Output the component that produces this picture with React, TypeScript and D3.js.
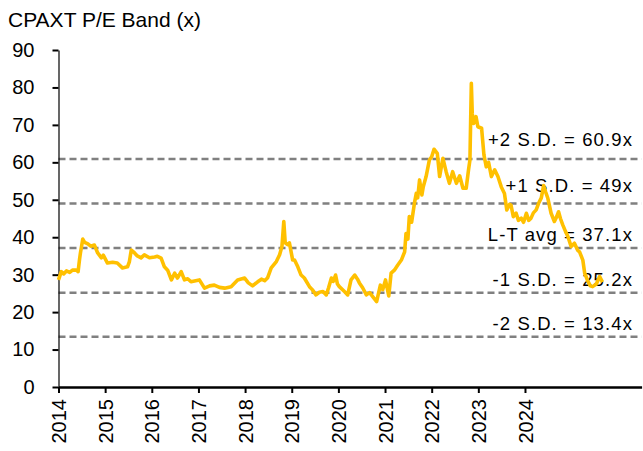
import React, { useEffect, useRef } from 'react'
import * as d3 from 'd3'

// decimal year of each reading, and the P/E (x) at that date
const years = [
  2014.00, 2014.06, 2014.11, 2014.17, 2014.24, 2014.30, 2014.38, 2014.42, 2014.45, 2014.47,
  2014.50, 2014.52, 2014.56, 2014.63, 2014.69, 2014.77, 2014.84, 2014.92, 2014.96, 2015.05,
  2015.16, 2015.26, 2015.37, 2015.48, 2015.52, 2015.56, 2015.63, 2015.69, 2015.77, 2015.84,
  2015.95, 2016.06, 2016.12, 2016.20, 2016.27, 2016.34, 2016.42, 2016.49, 2016.55, 2016.63,
  2016.70, 2016.77, 2016.84, 2016.94, 2017.02, 2017.13, 2017.24, 2017.34, 2017.45, 2017.56,
  2017.70, 2017.84, 2017.99, 2018.07, 2018.16, 2018.27, 2018.35, 2018.42, 2018.48, 2018.56,
  2018.67, 2018.74, 2018.79, 2018.83, 2018.86, 2018.91, 2018.95, 2019.02, 2019.06, 2019.13,
  2019.20, 2019.27, 2019.38, 2019.44, 2019.52, 2019.59, 2019.67, 2019.74, 2019.79, 2019.85,
  2019.89, 2019.94, 2019.98, 2020.02, 2020.13, 2020.20, 2020.27, 2020.35, 2020.41, 2020.45,
  2020.52, 2020.60, 2020.67, 2020.74, 2020.82, 2020.90, 2020.95, 2021.01, 2021.08, 2021.13,
  2021.20, 2021.27, 2021.35, 2021.42, 2021.45, 2021.49, 2021.52, 2021.57, 2021.63, 2021.67,
  2021.70, 2021.74, 2021.79, 2021.82, 2021.88, 2021.95, 2022.00, 2022.05, 2022.12, 2022.17,
  2022.24, 2022.31, 2022.38, 2022.45, 2022.53, 2022.60, 2022.67, 2022.74, 2022.79, 2022.82,
  2022.85, 2022.87, 2022.90, 2022.95, 2022.99, 2023.07, 2023.12, 2023.17, 2023.22, 2023.28,
  2023.35, 2023.42, 2023.49, 2023.56, 2023.61, 2023.67, 2023.70, 2023.75, 2023.81, 2023.86,
  2023.92, 2023.97, 2024.03, 2024.08, 2024.13, 2024.18, 2024.24, 2024.29, 2024.35, 2024.40,
  2024.44, 2024.49, 2024.56, 2024.63, 2024.68, 2024.72, 2024.76, 2024.81, 2024.87, 2024.92,
  2024.99, 2025.06, 2025.13, 2025.17, 2025.24, 2025.28, 2025.34, 2025.40, 2025.45, 2025.53,
  2025.60, 2025.66,
]

const pe = [
  28.6, 30.8, 30.2, 31.0, 30.6, 31.2, 31.2, 30.8, 34.0, 35.8,
  38.0, 39.5, 38.6, 38.2, 37.6, 37.9, 35.8, 34.5, 35.2, 33.1,
  33.3, 33.1, 31.8, 32.1, 33.5, 36.6, 35.8, 35.0, 34.5, 35.3,
  34.5, 34.7, 34.9, 34.4, 32.1, 31.2, 28.6, 30.4, 29.1, 30.8,
  28.6, 28.9, 28.1, 28.4, 28.6, 26.4, 27.0, 27.2, 26.6, 26.4,
  26.8, 28.6, 29.1, 27.8, 27.0, 28.1, 28.8, 28.4, 29.1, 31.8,
  33.5, 35.3, 37.5, 44.2, 38.5, 38.0, 38.5, 33.9, 33.9, 32.1,
  29.9, 29.1, 26.8, 26.0, 24.6, 25.3, 25.5, 24.6, 26.5, 29.1,
  28.2, 29.9, 27.5, 26.8, 25.5, 24.6, 28.6, 29.9, 28.8, 27.8,
  26.5, 24.6, 25.2, 24.1, 22.8, 27.2, 26.0, 28.6, 24.3, 30.4,
  31.2, 32.5, 33.9, 36.1, 41.0, 39.5, 45.5, 44.0, 49.1, 51.7,
  50.5, 55.3, 51.3, 53.5, 56.2, 60.6, 61.5, 63.5, 62.4, 56.2,
  61.1, 57.5, 54.4, 57.5, 54.4, 56.4, 53.1, 53.1, 58.0, 60.6,
  81.1, 73.0, 70.4, 72.2, 69.5, 69.1, 62.0, 58.8, 60.0, 56.2,
  58.0, 56.2, 53.5, 51.7, 47.3, 48.8, 48.6, 45.5, 46.4, 44.5,
  45.1, 44.0, 46.4, 44.5, 45.1, 46.5, 47.3, 49.0, 50.5, 53.8,
  52.2, 50.4, 46.4, 44.2, 45.5, 46.8, 45.0, 43.3, 41.5, 40.2,
  37.5, 38.4, 36.5, 36.1, 33.9, 30.4, 28.5, 27.0, 26.8, 27.5,
  29.5, 28.0,
]

const bandValues = [60.9, 49, 37.1, 25.2, 13.4]
const bandLabels = ['+2 S.D. = 60.9x', '+1 S.D. = 49x', 'L-T avg = 37.1x', '-1 S.D. = 25.2x', '-2 S.D. = 13.4x']
const yTicks = [0, 10, 20, 30, 40, 50, 60, 70, 80, 90]
const xTicks = [2014, 2015, 2016, 2017, 2018, 2019, 2020, 2021, 2022, 2023, 2024]

const W = 643
const H = 451
const FONT = '"Liberation Sans", Arial, sans-serif'

const App: React.FC = () => {
  const svgRef = useRef<SVGSVGElement>(null)

  useEffect(() => {
    if (!svgRef.current) return
    document.body.style.margin = '0'

    const svg = d3.select(svgRef.current)
    svg.selectAll('*').remove()

    const x = d3.scaleLinear().domain([2014, 2026.5]).range([58.5, 641.6])
    const y = d3.scaleLinear().domain([0, 90]).range([387, 50])

    // title
    svg.append('text')
      .attr('x', 8)
      .attr('y', 27)
      .attr('font-family', FONT)
      .attr('font-size', 21)
      .attr('fill', '#000')
      .text('CPAXT P/E Band (x)')

    // S.D. band lines
    svg.append('g')
      .selectAll('line')
      .data(bandValues)
      .join('line')
      .attr('x1', x(2014))
      .attr('x2', x.range()[1])
      .attr('y1', d => y(d))
      .attr('y2', d => y(d))
      .attr('stroke', '#808080')
      .attr('stroke-width', 2.5)
      .attr('stroke-dasharray', '7,4')

    // label offsets above each band line
    const labelDy = [-13, -12, -7.5, -7, -7]
    svg.append('g')
      .selectAll('text')
      .data(bandValues)
      .join('text')
      .attr('x', 633)
      .attr('y', (d, i) => y(d) + labelDy[i])
      .attr('text-anchor', 'end')
      .attr('font-family', FONT)
      .attr('font-size', 18.5)
      .attr('letter-spacing', 1.1)
      .attr('fill', '#000')
      .text((d, i) => bandLabels[i])

    // y axis
    const yAxis = svg.append('g')
      .attr('transform', `translate(${x(2014)},0)`)
      .call(d3.axisLeft(y).tickValues(yTicks).tickSize(6).tickSizeOuter(0).tickPadding(18))
    yAxis.attr('font-family', FONT).attr('font-size', 20)
    yAxis.select('.domain').attr('stroke', '#000').attr('stroke-width', 1.2)
    yAxis.selectAll('.tick line').attr('stroke', '#000').attr('stroke-width', 2)
    yAxis.selectAll('.tick text').attr('fill', '#000')

    // x axis
    const xAxis = svg.append('g')
      .attr('transform', `translate(0,${y(0)})`)
      .call(d3.axisBottom(x).tickValues(xTicks).tickFormat(d3.format('d')).tickSize(6).tickSizeOuter(0))
    xAxis.attr('font-family', FONT).attr('font-size', 20)
    xAxis.select('.domain').attr('stroke', '#000').attr('stroke-width', 2.5)
    xAxis.selectAll('.tick line').attr('stroke', '#000').attr('stroke-width', 2)
    xAxis.selectAll('.tick text')
      .attr('fill', '#000')
      .attr('transform', 'rotate(-90)')
      .attr('text-anchor', 'end')
      .attr('x', -12)
      .attr('y', 0)
      .attr('dy', '0.36em')

    // P/E line
    const line = d3.line<number>()
      .x((d, i) => x(years[i]))
      .y(d => y(d))

    svg.append('path')
      .datum(pe)
      .attr('d', line)
      .attr('fill', 'none')
      .attr('stroke', '#FFC000')
      .attr('stroke-width', 3.6)
      .attr('stroke-linejoin', 'round')
  }, [])

  return <svg ref={svgRef} width={W} height={H} style={{ display: 'block', background: '#fff' }} />
}

export default App
